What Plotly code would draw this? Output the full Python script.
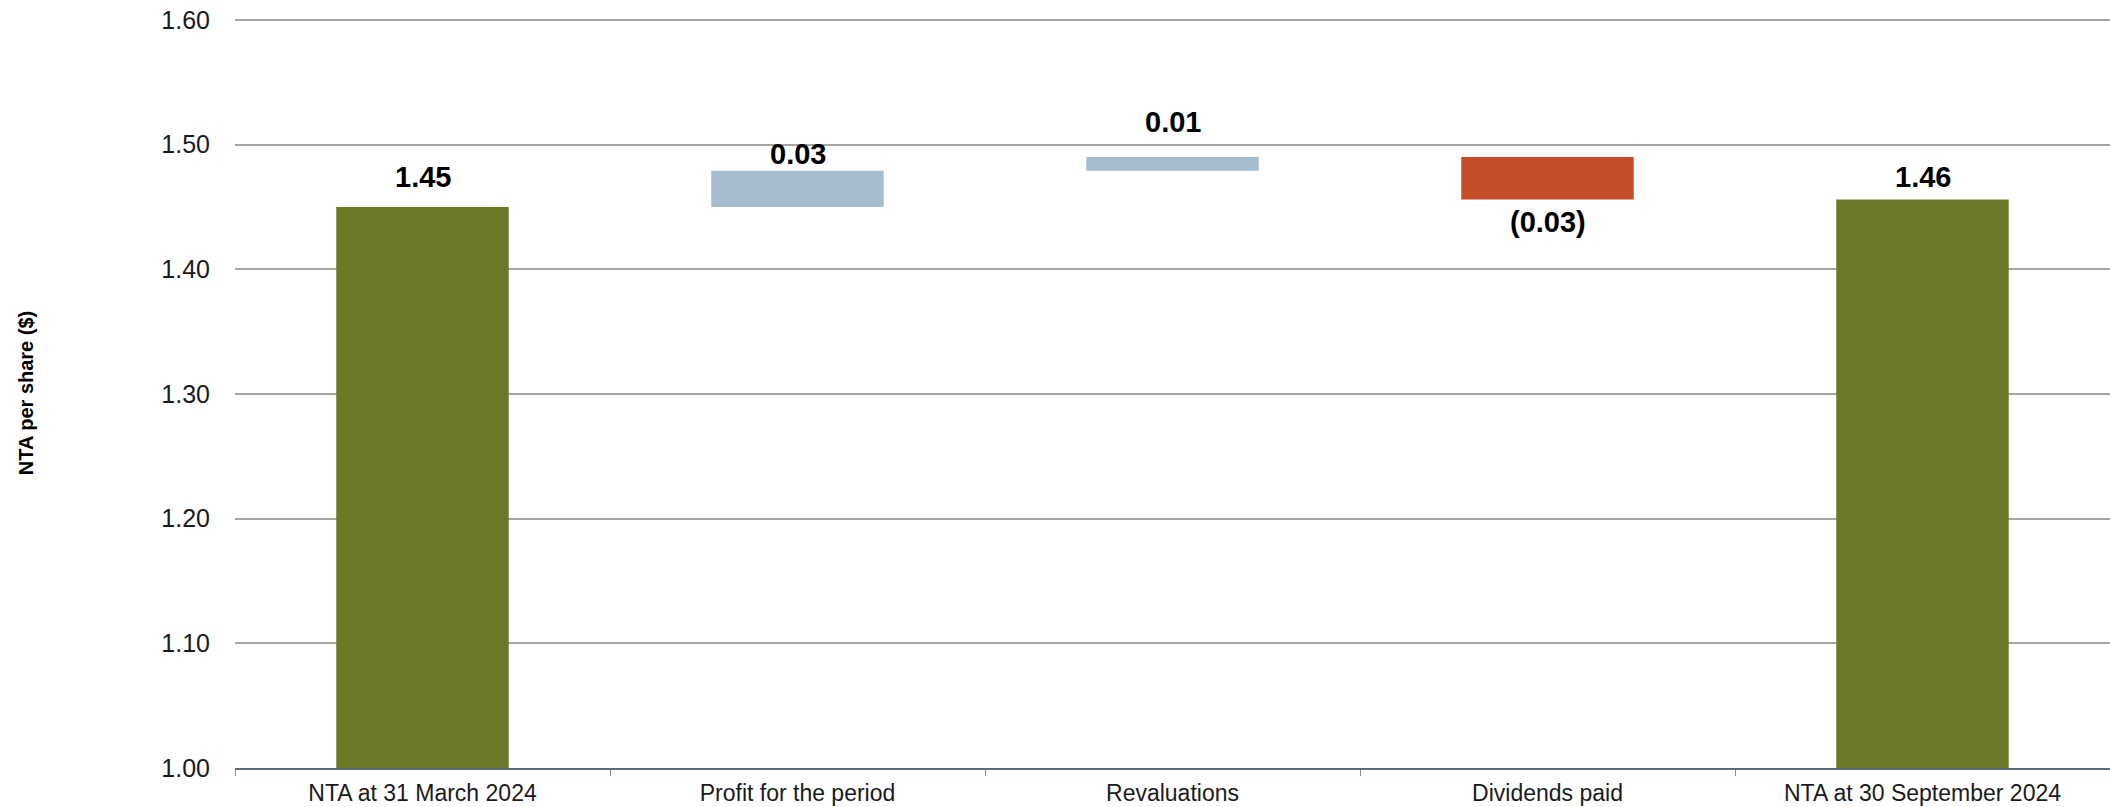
import plotly.graph_objects as go

categories = ["NTA at 31 March 2024", "Profit for the period", "Revaluations",
              "Dividends paid", "NTA at 30 September 2024"]
measures = ["absolute", "relative", "relative", "relative", "total"]
values = [1.450, 0.029, 0.011, -0.034, 0]
value_labels = ["1.45", "0.03", "0.01", "(0.03)", "1.46"]

y_ticks = [1.00, 1.10, 1.20, 1.30, 1.40, 1.50, 1.60]
y_tick_labels = ["1.00", "1.10", "1.20", "1.30", "1.40", "1.50", "1.60"]

GREEN = "#6C7A27"
BLUE = "#A6BDD0"
RED = "#C44E28"
FONT = "Liberation Sans, Arial, sans-serif"

fig = go.Figure(go.Waterfall(
    x=categories,
    y=values,
    measure=measures,
    width=0.46,
    connector=dict(visible=False),
    increasing=dict(marker=dict(color=BLUE)),
    decreasing=dict(marker=dict(color=RED)),
    totals=dict(marker=dict(color=GREEN)),
    hoverinfo="skip",
))

# bar end positions for labels
running = 0.0
ends = []
for m, v in zip(measures, values):
    if m == "absolute":
        running = v
    elif m == "relative":
        running += v
    ends.append(running)

# pixel offsets of the value labels (style only), one per category
label_shift = [12, -1, 17, -5, 4]
for i, (cat, m, v, lab) in enumerate(zip(categories, measures, values, value_labels)):
    negative = (m == "relative" and v < 0)
    fig.add_annotation(
        x=cat, y=ends[i], text=lab, showarrow=False,
        yanchor="top" if negative else "bottom",
        yshift=label_shift[i],
        font=dict(family=FONT, size=29, color="#000000", weight="bold"),
    )

fig.update_layout(
    width=2110, height=807,
    margin=dict(l=235, r=0, t=18, b=39),
    paper_bgcolor="white", plot_bgcolor="white",
    showlegend=False,
    font=dict(family=FONT, size=23, color="#1a1a1a"),
)
fig.update_yaxes(
    range=[1.0, 1.6015],
    tickvals=y_ticks, ticktext=y_tick_labels,
    showgrid=True, gridcolor="#A6A6A6", gridwidth=1.5,
    zeroline=False, showline=False,
    ticks="", ticklabelstandoff=24,
    tickfont=dict(family=FONT, size=25, color="#1a1a1a"),
    title=dict(text="NTA per share ($)", standoff=122,
               font=dict(family=FONT, size=20, color="#000000", weight="bold")),
)
fig.update_xaxes(
    type="category",
    showline=True, linecolor="#5E6B78", linewidth=1.5,
    ticks="outside", tickson="boundaries", ticklen=6, tickcolor="#8A8F96",
    ticklabelstandoff=4,
    showgrid=False,
    tickfont=dict(family=FONT, size=23, color="#1a1a1a"),
)

fig.write_html("out.html")
